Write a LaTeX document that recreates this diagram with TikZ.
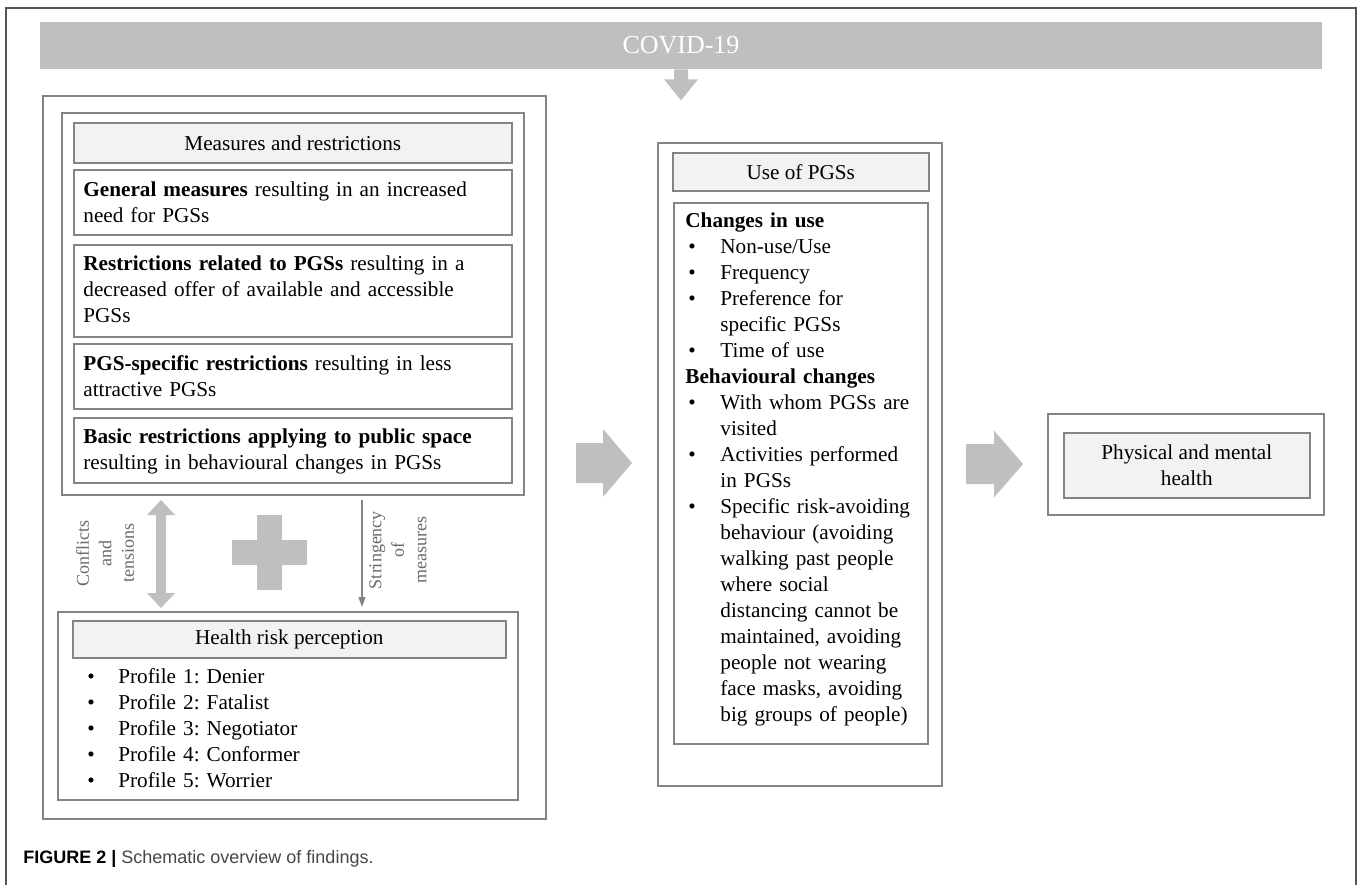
\documentclass[tikz,border=0pt]{standalone}
\usepackage{fontspec}
\setmainfont{Liberation Serif}
\newfontfamily\capfont{Liberation Sans}
\usetikzlibrary{positioning,arrows.meta}
\frenchspacing

\definecolor{BarGray}{RGB}{191,191,191}
\definecolor{LineGray}{RGB}{132,132,132}
\definecolor{TextGray}{RGB}{105,105,105}
\definecolor{HeadFill}{RGB}{242,242,242}
\definecolor{FrameGray}{RGB}{85,85,85}
\definecolor{CapGray}{RGB}{70,70,70}

\newcommand\Bul{\hspace*{1.5pt}\makebox[16pt][l]{\textbullet}}
\newcommand\Ind{\hspace*{17.5pt}}

\begin{document}
\begin{tikzpicture}[x=0.5pt, y=-0.5pt,
	every node/.style = {inner sep=0pt, font=\fontsize{10.6}{13}\selectfont},
	Box/.style = {draw=LineGray, line width=0.8pt, anchor=north west},
	Head/.style = {Box, fill=HeadFill},
	Txt/.style = {anchor=base west, text width=#1, align=left},
	Block/.style = {fill=BarGray},
	Line/.style = {draw=LineGray, line width=0.6pt, -{Triangle[length=5pt,width=3.5pt]},
		shorten <=2pt, shorten >=2pt},
	Side/.style = {rotate=90, align=center, text=TextGray, font=\fontsize{9}{11.25}\selectfont}
]
\useasboundingbox (0,0) rectangle (1358,885);
\draw[FrameGray, line width=0.9pt] (6,885) -- (6,8) -- (1356,8) -- (1356,885);

% top bar
\node[Block, minimum width=641pt, minimum height=23.5pt, text=white,
	font=\fontsize{13}{15}\selectfont] (covid) at (681,45.5) {COVID-19};
\coordinate (dn) at (covid.south);
\fill[Block] (dn) ++(-7,0) -- ++(14,0) -- ++(0,10) -- ++(10,0) -- ++(-17,21)
	-- ++(-17,-21) -- ++(10,0) -- cycle;

% measures and restrictions
\node[Box, minimum width=251.5pt, minimum height=361.5pt] (lbox) at (42,95) {};
\node[Box, minimum width=231pt, minimum height=191pt] (grp) at (61,112) {};
\node[Head, minimum width=219pt, minimum height=20pt] (mhead) at (73,122) {Measures and restrictions};
\node[Box, minimum width=219pt, minimum height=32.5pt] (gen) at (73,169) {};
\node[Box, minimum width=219pt, minimum height=46pt] (rel) at (73,244) {};
\node[Box, minimum width=219pt, minimum height=32.5pt] (spec) at (73,343) {};
\node[Box, minimum width=219pt, minimum height=32.5pt] (basic) at (73,417) {};
\node[Txt=210pt] (tgen) at (83,196) {\textbf{General measures} resulting in an increased\\need for PGSs};
\node[Txt=210pt] (trel) at (83,270) {\textbf{Restrictions related to PGSs} resulting in a\\decreased offer of available and accessible\\PGSs};
\node[Txt=210pt] (tspec) at (83,370) {\textbf{PGS-specific restrictions} resulting in less\\attractive PGSs};
\node[Txt=210pt] (tbasic) at (83,443) {\textbf{Basic restrictions applying to public space}\\resulting in behavioural changes in PGSs};

% health risk perception
\node[Box, minimum width=230pt, minimum height=94pt] (hbox) at (57,611) {};
\node[Head, minimum width=216.5pt, minimum height=18.5pt] (hhead) at (72,620) {Health risk perception};
\node[Txt=200pt] (prof) at (87,683) {\makebox[15.5pt][l]{\textbullet}Profile 1: Denier\\
	\makebox[15.5pt][l]{\textbullet}Profile 2: Fatalist\\
	\makebox[15.5pt][l]{\textbullet}Profile 3: Negotiator\\
	\makebox[15.5pt][l]{\textbullet}Profile 4: Conformer\\
	\makebox[15.5pt][l]{\textbullet}Profile 5: Worrier};

% links between the two
\coordinate (da) at (161,500);
\fill[Block] (da) -- ++(14,15) -- ++(-9,0) -- ++(0,78) -- ++(9,0) -- ++(-14,15)
	-- ++(-14,-15) -- ++(9,0) -- ++(0,-78) -- ++(-9,0) -- cycle;
\fill[Block] (257,515) rectangle ++(25,75);
\fill[Block] (232,540) rectangle ++(75,25);
\coordinate (sx) at (362,0);
\draw[Line] (grp.south -| sx) -- (hbox.north -| sx);
\node[Side] (conf) at (105,553) {Conflicts\\and\\tensions};
\node[Side] (strin) at (398,550) {Stringency\\of\\measures};

% use of PGSs
\coordinate (a1) at (576,463);
\fill[Block] (a1) ++(0,-20) -- ++(27,0) -- ++(0,-14) -- ++(29,34) -- ++(-29,34)
	-- ++(0,-14) -- ++(-27,0) -- cycle;
\node[Box, minimum width=142pt, minimum height=321.5pt] (use) at (657,142) {};
\node[Head, minimum width=128pt, minimum height=19pt] (uhead) at (672,152) {Use of PGSs};
\node[Box, minimum width=127pt, minimum height=270.5pt] (ubox) at (673,202) {};
\node[Txt=140pt] (ulist) at (685,227) {\textbf{Changes in use}\\
	\Bul Non-use/Use\\
	\Bul Frequency\\
	\Bul Preference for\\
	\Ind specific PGSs\\
	\Bul Time of use\\
	\textbf{Behavioural changes}\\
	\Bul With whom PGSs are\\
	\Ind visited\\
	\Bul Activities performed\\
	\Ind in PGSs\\
	\Bul Specific risk-avoiding\\
	\Ind behaviour (avoiding\\
	\Ind walking past people\\
	\Ind where social\\
	\Ind distancing cannot be\\
	\Ind maintained, avoiding\\
	\Ind people not wearing\\
	\Ind face masks, avoiding\\
	\Ind big groups of people)};

% physical and mental health
\coordinate (a2) at (966,464);
\fill[Block] (a2) ++(0,-20) -- ++(28,0) -- ++(0,-13.5) -- ++(29,33.5) -- ++(-29,33.5)
	-- ++(0,-13.5) -- ++(-28,0) -- cycle;
\node[Box, minimum width=138pt, minimum height=50.5pt] (phys) at (1047,413) {};
\node[Head, minimum width=123pt, minimum height=32.5pt, align=center] (health) at (1063,432)
	{Physical and mental\\health};

\node[anchor=base west, font=\capfont\fontsize{9}{11}\selectfont] (cap) at (23,863)
	{\textbf{FIGURE 2 |} \textcolor{CapGray}{Schematic overview of findings.}};
\end{tikzpicture}
\end{document}
